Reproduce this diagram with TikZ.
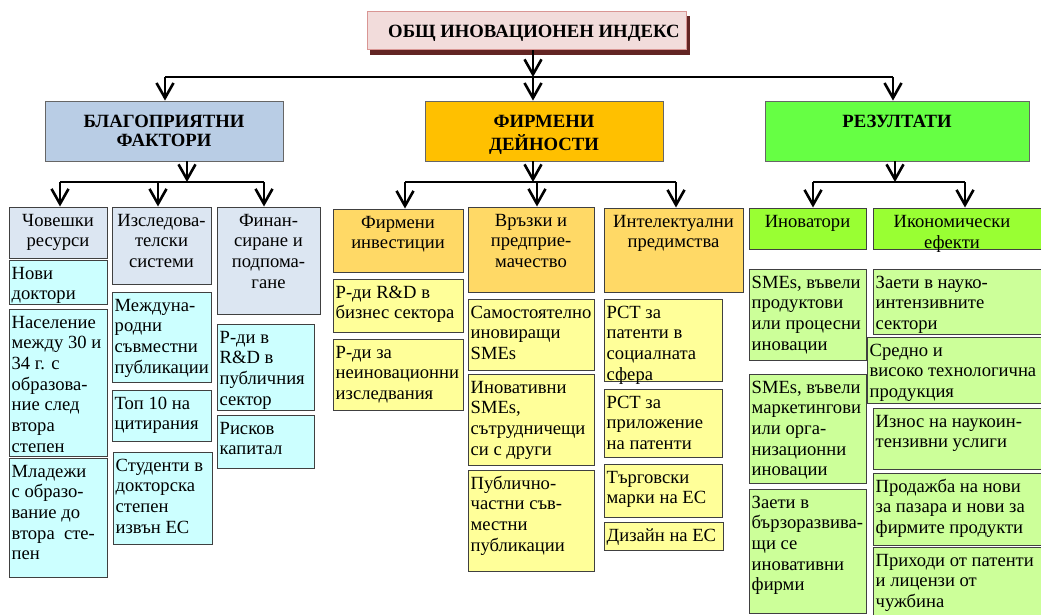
\documentclass[tikz,border=0pt]{standalone}
\usepackage{fontspec}
\setmainfont{Liberation Serif}
\usetikzlibrary{arrows.meta,fit}
\definecolor{lvlL}{HTML}{B9CDE5}
\definecolor{lvlM}{HTML}{FFC000}
\definecolor{lvlR}{HTML}{66FF44}
\definecolor{hdrB}{HTML}{DCE6F2}
\definecolor{cyanL}{HTML}{CCFFFF}
\definecolor{hdrO}{HTML}{FFD966}
\definecolor{yelL}{HTML}{FFFF99}
\definecolor{hdrG}{HTML}{99FF33}
\definecolor{grnL}{HTML}{CCFF99}
\definecolor{titleF}{HTML}{F2DCDB}
\definecolor{titleD}{HTML}{D99694}
\definecolor{shadowR}{HTML}{632523}
\tikzset{
  bxs/.style={draw=black!75, line width=1pt, inner sep=0pt, rectangle},
  lvl/.style={draw=black!60, line width=0.8pt, inner sep=0pt, rectangle},
  txtl/.style={anchor=north west, align=left, inner xsep=3pt, inner ysep=5pt, font=\fontsize{18.6}{20.7}\selectfont},
  txtc/.style={anchor=north, align=center, inner xsep=2pt, inner ysep=5pt, font=\fontsize{18.6}{20.7}\selectfont},
  txtb/.style={anchor=north, align=center, inner xsep=2pt, inner ysep=13pt, font=\fontsize{18.7}{19.5}\selectfont\bfseries},
  arr/.style={draw=black, line width=2.6pt, -{Straight Barb[length=15pt,width=17pt]}},
  barline/.style={draw=black, line width=1.3pt},
}
\newcommand\bx[6]{\node[#6, fit={(#2,#3) (#4,#5)}] (#1) {};}
\newcommand\tl[2]{\node[txtl] (#1t) at (#1.north west) {\strut #2};}
\newcommand\tc[2]{\node[txtc] (#1t) at (#1.north) {\strut #2};}
\begin{document}
\begin{tikzpicture}[x=1pt,y=-1pt]
\useasboundingbox (0,0) rectangle (1041,615);
\clip (0,0) rectangle (1041,615);
\fill[white] (0,0) rectangle (1041,615);
% title
\fill[shadowR] (370,16) rectangle (690,55);
\bx{T}{367}{12}{686}{50}{draw=titleD, fill=titleF, line width=1pt, inner sep=0pt, rectangle}
\node[anchor=base west, inner sep=0pt, font=\fontsize{18.7}{20}\selectfont\bfseries] (Tt) at (388,38) {ОБЩ ИНОВАЦИОНЕН ИНДЕКС};
% level 1
\bx{L}{45}{101}{283}{161}{lvl, fill=lvlL}
\bx{M}{425}{101}{663}{161}{lvl, fill=lvlM}
\bx{R}{765}{101}{1029}{161}{lvl, fill=lvlR}
\node[txtb] (Lt) at (L.north) {\strut БЛАГОПРИЯТНИ\\ФАКТОРИ};
\node[txtb] (Mt) at (M.north) {\strut ФИРМЕНИ\\ДЕЙНОСТИ};
\node[txtb] (Rt) at (R.north) {\strut РЕЗУЛТАТИ};
% column 1
\bx{Ca}{9}{207}{107}{258}{bxs, fill=hdrB}\tc{Ca}{Човешки\\ресурси}
\bx{Ca1}{9}{260}{107}{304}{bxs, fill=cyanL}\tl{Ca1}{Нови\\доктори}
\bx{Ca2}{9}{309}{107}{456}{bxs, fill=cyanL}\tl{Ca2}{Население\\между 30 и\\34 г. с\\образова-\\ние след\\втора\\степен}
\bx{Ca3}{9}{458}{107}{577}{bxs, fill=cyanL}\tl{Ca3}{Младежи\\с образо-\\вание до\\втора\ \ сте-\\пен}
% column 2
\bx{Cb}{112}{207}{211}{284}{bxs, fill=hdrB}\tc{Cb}{Изследова-\\телски\\системи}
\bx{Cb1}{112}{292}{211}{382}{bxs, fill=cyanL}\tl{Cb1}{Междуна-\\родни\\съвместни\\публикации}
\bx{Cb2}{112}{390}{211}{441}{bxs, fill=cyanL}\tl{Cb2}{Топ 10 на\\цитирания}
\bx{Cb3}{113}{452}{212}{544}{bxs, fill=cyanL}\tl{Cb3}{Студенти в\\докторска\\степен\\извън ЕС}
% column 3
\bx{Cc}{217}{207}{320}{314}{bxs, fill=hdrB}\tc{Cc}{Финан-\\сиране и\\подпома-\\гане}
\bx{Cc1}{217}{324}{314}{410}{bxs, fill=cyanL}\tl{Cc1}{Р-ди в\\R\&D в\\публичния\\сектор}
\bx{Cc2}{217}{415}{314}{468}{bxs, fill=cyanL}\tl{Cc2}{Рисков\\капитал}
% column 4
\bx{Cd}{333}{209}{463}{272}{bxs, fill=hdrO}\tc{Cd}{Фирмени\\инвестиции}
\bx{Cd1}{333}{279}{463}{332}{bxs, fill=yelL}\tl{Cd1}{Р-ди R\&D в\\бизнес сектора}
\bx{Cd2}{333}{339}{463}{410}{bxs, fill=yelL}\tl{Cd2}{Р-ди за\\неиновационни\\изследвания}
% column 5
\bx{Ce}{468}{207}{594}{292}{bxs, fill=hdrO}\tc{Ce}{Връзки и\\предприе-\\мачество}
\bx{Ce1}{468}{299}{594}{370}{bxs, fill=yelL}\tl{Ce1}{Самостоятелно\\иновиращи\\SMEs}
\bx{Ce2}{468}{374}{594}{465}{bxs, fill=yelL}\tl{Ce2}{Иновативни\\SMEs,\\сътрудничещи\\си с други}
\bx{Ce3}{468}{470}{594}{571}{bxs, fill=yelL}\tl{Ce3}{Публично-\\частни съв-\\местни\\публикации}
% column 6
\bx{Cf}{604}{208}{743}{292}{bxs, fill=hdrO}\tc{Cf}{Интелектуални\\предимства}
\bx{Cf1}{604}{299}{722}{381}{bxs, fill=yelL}\tl{Cf1}{PCT за\\патенти в\\социалната\\сфера}
\bx{Cf2}{604}{389}{722}{457}{bxs, fill=yelL}\tl{Cf2}{PCT за\\приложение\\на патенти}
\bx{Cf3}{604}{464}{722}{517}{bxs, fill=yelL}\tl{Cf3}{Търговски\\марки на ЕС}
\bx{Cf4}{604}{522}{723}{550}{bxs, fill=yelL}\tl{Cf4}{Дизайн на ЕС}
% column 7
\bx{Cg}{749}{208}{866}{249}{bxs, fill=hdrG}\tc{Cg}{Иноватори}
\bx{Cg1}{749}{269}{866}{360}{bxs, fill=grnL}\tl{Cg1}{SMEs, въвели\\продуктови\\или процесни\\иновации}
\bx{Cg2}{749}{374}{866}{483}{bxs, fill=grnL}\tl{Cg2}{SMEs, въвели\\маркетингови\\или орга-\\низационни\\иновации}
\bx{Cg3}{749}{489}{866}{613}{bxs, fill=grnL}\tl{Cg3}{Заети в\\бързоразвива-\\щи се\\иновативни\\фирми}
% column 8
\bx{Ch}{873}{208}{1046}{249}{bxs, fill=hdrG}
\node[txtc] (Cht) at (952,208) {\strut Икономически\\ефекти};
\bx{Ch1}{873}{269}{1046}{334}{bxs, fill=grnL}\tl{Ch1}{Заети в науко-\\интензивните\\сектори}
\bx{Ch2}{867}{337}{1046}{403}{bxs, fill=grnL}\tl{Ch2}{Средно и\\високо технологична\\продукция}
\bx{Ch3}{873}{408}{1046}{469}{bxs, fill=grnL}\tl{Ch3}{Износ на наукоин-\\тензивни услиги}
\bx{Ch4}{873}{473}{1046}{545}{bxs, fill=grnL}\tl{Ch4}{Продажба на нови\\за пазара и нови за\\фирмите продукти}
\bx{Ch5}{873}{547}{1046}{620}{bxs, fill=grnL}\tl{Ch5}{Приходи от патенти\\и лицензи от\\чужбина}
% connectors level 0 -> 1
\coordinate (b0) at (533,77);
\coordinate (bL) at (165,77);
\coordinate (bR) at (893,77);
\draw[arr] (b0 |- T.south) -- (b0);
\draw[barline] (bL) -- (bR);
\draw[arr] (bL) -- (bL |- L.north);
\draw[arr] (b0) -- (b0 |- M.north);
\draw[arr] (bR) -- (bR |- R.north);
% left group
\coordinate (s1) at (187,182);
\coordinate (a1) at (60,182);
\coordinate (a2) at (158,182);
\coordinate (a3) at (264,182);
\draw[arr] (s1 |- L.south) -- (s1);
\draw[barline] (a1) -- (a3);
\draw[arr] (a1) -- (a1 |- Ca.north);
\draw[arr] (a2) -- (a2 |- Cb.north);
\draw[arr] (a3) -- (a3 |- Cc.north);
% middle group
\coordinate (s2) at (533,182);
\coordinate (a4) at (405,182);
\coordinate (a5) at (537,182);
\coordinate (a6) at (676,182);
\draw[arr] (s2 |- M.south) -- (s2);
\draw[barline] (a4) -- (a6);
\draw[arr] (a4) -- (a4 |- Cd.north);
\draw[arr] (a5) -- (a5 |- Ce.north);
\draw[arr] (a6) -- (a6 |- Cf.north);
% right group
\coordinate (s3) at (895,182);
\coordinate (a7) at (813,182);
\coordinate (a8) at (965,182);
\draw[arr] (s3 |- R.south) -- (s3);
\draw[barline] (a7) -- (a8);
\draw[arr] (a7) -- (a7 |- Cg.north);
\draw[arr] (a8) -- (a8 |- Ch.north);
\end{tikzpicture}
\end{document}
